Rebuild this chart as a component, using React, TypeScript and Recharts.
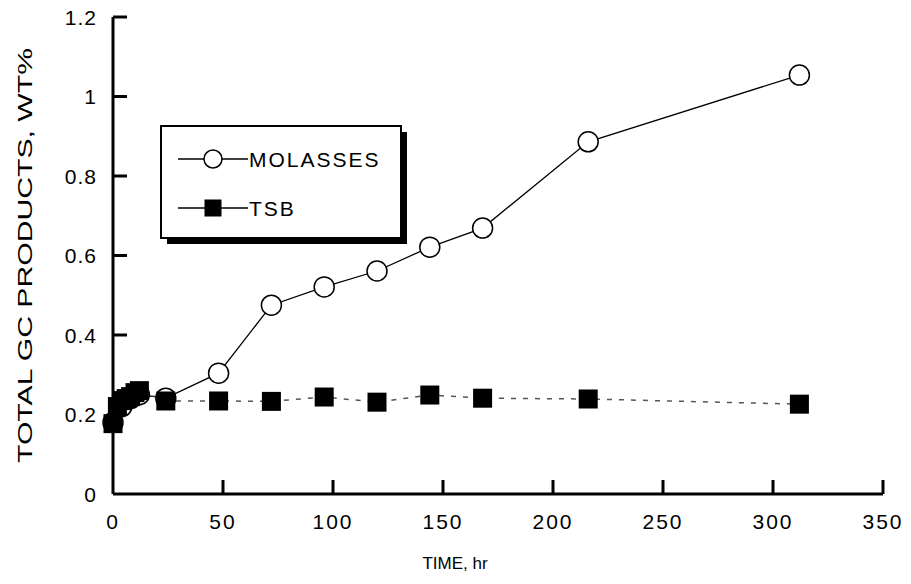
import React from "react";
import { LineChart, Line, XAxis, YAxis, Legend } from "recharts";

const molassesTime = [0, 4, 8, 12, 24, 48, 72, 96, 120, 144, 168, 216, 312];
const molassesValue = [0.18, 0.22, 0.24, 0.25, 0.241, 0.304, 0.475, 0.521, 0.561, 0.621, 0.669, 0.886, 1.054];

const tsbTime = [0, 2, 4, 6, 8, 10, 12, 24, 48, 72, 96, 120, 144, 168, 216, 312];
const tsbValue = [0.177, 0.22, 0.235, 0.24, 0.245, 0.255, 0.26, 0.234, 0.234, 0.233, 0.244, 0.231, 0.249, 0.241, 0.239, 0.226];

const xTicks = [0, 50, 100, 150, 200, 250, 300, 350];
const yTicks = [0, 0.2, 0.4, 0.6, 0.8, 1, 1.2];

const molassesName = "MOLASSES";
const tsbName = "TSB";
const xTitle = "TIME, hr";
const yTitle = "TOTAL GC PRODUCTS, WT%";

const molassesData = molassesTime.map((t, i) => ({ t, v: molassesValue[i] }));
const tsbData = tsbTime.map((t, i) => ({ t, v: tsbValue[i] }));

const FONT = "'Liberation Sans', Arial, Helvetica, sans-serif";

const XTick = (props: any) => {
  const { x, y, payload } = props;
  return (
    <g>
      {payload.value !== 0 && (
        <line x1={x} y1={y} x2={x} y2={y - 14} stroke="#000" strokeWidth={3} />
      )}
      <text
        x={x}
        y={y + 27}
        textAnchor="middle"
        dominantBaseline="central"
        fontSize={21}
        letterSpacing={2}
        fontFamily={FONT}
        fill="#000"
      >
        {payload.value}
      </text>
    </g>
  );
};

const YTick = (props: any) => {
  const { x, y, payload } = props;
  return (
    <g>
      {payload.value !== 0 && (
        <line x1={x} y1={y} x2={x + 14} y2={y} stroke="#000" strokeWidth={3} />
      )}
      <text
        x={x - 16}
        y={y}
        textAnchor="end"
        dominantBaseline="central"
        fontSize={21}
        letterSpacing={1}
        fontFamily={FONT}
        fill="#000"
      >
        {String(payload.value)}
      </text>
    </g>
  );
};

const SquareDot = (props: any) => {
  const { cx, cy, index } = props;
  return <rect key={"sq" + index} x={cx - 9.5} y={cy - 9.5} width={19} height={19} fill="#000" />;
};

const CircleDot = (props: any) => {
  const { cx, cy, index } = props;
  return <circle key={"c" + index} cx={cx} cy={cy} r={10} fill="#fff" stroke="#000" strokeWidth={1.5} />;
};

const LegendBox = (props: any) => {
  const payload = props.payload || [];
  return (
    <svg width={250} height={122} style={{ display: "block" }}>
      <rect x={7} y={7} width={240} height={112} fill="#000" />
      <rect x={1} y={1} width={240} height={112} fill="#fff" stroke="#000" strokeWidth={2} />
      {payload.map((p: any, i: number) => {
        const cy = 34 + i * 49;
        const isCircle = p.value === molassesName;
        return (
          <g key={p.value}>
            <line x1={18} y1={cy} x2={88} y2={cy} stroke="#000" strokeWidth={1.3} />
            {isCircle ? (
              <circle cx={53} cy={cy} r={9} fill="#fff" stroke="#000" strokeWidth={1.5} />
            ) : (
              <rect x={44.5} y={cy - 8.5} width={17} height={17} fill="#000" />
            )}
            <text
              x={89}
              y={cy}
              dominantBaseline="central"
              fontSize={21}
              letterSpacing={2}
              fontFamily={FONT}
              fill="#000"
            >
              {p.value}
            </text>
          </g>
        );
      })}
    </svg>
  );
};

export default function App() {
  return (
    <div style={{ marginTop: -8 }}>
      <LineChart width={903} height={576} margin={{ top: 17, right: 28, bottom: 2, left: 0 }}>
        <XAxis
          dataKey="t"
          type="number"
          domain={[0, 350]}
          ticks={xTicks}
          tickSize={0}
          tickMargin={0}
          tickLine={false}
          tick={<XTick />}
          axisLine={{ stroke: "#000", strokeWidth: 3 }}
          height={80}
          allowDuplicatedCategory={false}
          label={(p: any) => {
            const vb = p.viewBox || {};
            return (
              <text
                x={(vb.x || 0) + (vb.width || 0) / 2 - 43}
                y={(vb.y || 0) + 69}
                textAnchor="middle"
                dominantBaseline="central"
                fontSize={17}
                fontFamily={FONT}
                fill="#000"
              >
                {xTitle}
              </text>
            );
          }}
        />
        <YAxis
          dataKey="v"
          type="number"
          domain={[0, 1.2]}
          ticks={yTicks}
          tickSize={0}
          tickMargin={0}
          tickLine={false}
          tick={<YTick />}
          axisLine={{ stroke: "#000", strokeWidth: 3 }}
          width={105}
          label={(p: any) => {
            const vb = p.viewBox || {};
            const cy = (vb.y || 0) + (vb.height || 0) / 2;
            return (
              <text
                x={17}
                y={cy}
                transform={`rotate(-90, 17, ${cy})`}
                textAnchor="middle"
                dominantBaseline="central"
                fontSize={20}
                textLength={415}
                lengthAdjust="spacingAndGlyphs"
                fontFamily={FONT}
                fill="#000"
              >
                {yTitle}
              </text>
            );
          }}
        />
        <Legend
          layout="vertical"
          align="center"
          verticalAlign="middle"
          content={<LegendBox />}
          wrapperStyle={{ left: 152, top: 125, width: 250, height: 122 }}
        />
        <Line
          data={molassesData}
          dataKey="v"
          name={molassesName}
          stroke="#000"
          strokeWidth={1.3}
          dot={<CircleDot />}
          isAnimationActive={false}
        />
        <Line
          data={tsbData}
          dataKey="v"
          name={tsbName}
          stroke="#555"
          strokeWidth={1.5}
          strokeDasharray="5 7"
          dot={<SquareDot />}
          isAnimationActive={false}
        />
      </LineChart>
    </div>
  );
}
